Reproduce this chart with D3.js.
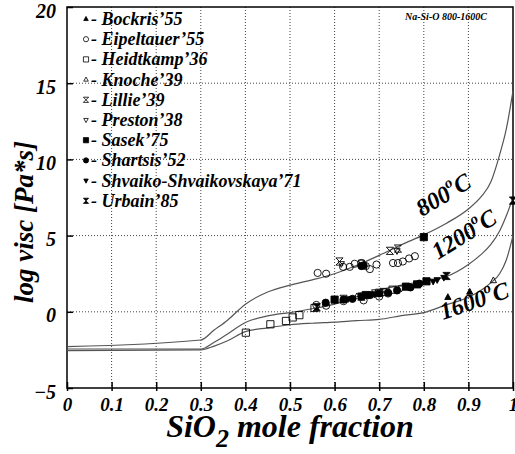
<!DOCTYPE html>
<html>
<head>
<meta charset="utf-8">
<script src="https://cdn.jsdelivr.net/npm/d3@7"></script>
<style>
  body { margin: 0; background: #fff; }
  text { font-family: "Liberation Serif", "Times New Roman", serif; font-weight: bold; font-style: italic; }
</style>
</head>
<body>
<svg id="chart"></svg>
<script>
var WIDTH = 515;
var HEIGHT = 454;

// model curves: SiO2 fraction vs log viscosity
var curveX = [0, 0.3, 0.33, 0.36, 0.4, 0.45, 0.5, 0.55, 0.6, 0.65, 0.7, 0.75, 0.8, 0.85, 0.9, 0.93, 0.95, 0.97, 0.985, 1.0];
var visc800 = [-2.29, -1.85, -1.2, -0.55, 0.5, 1.3, 1.75, 2.1, 2.5, 3.05, 3.7, 4.4, 5.05, 5.8, 6.75, 7.6, 8.5, 10.3, 12.0, 14.5];
var visc1200 = [-2.44, -2.44, -2.0, -1.45, -0.7, -0.27, -0.05, 0.2, 0.5, 1.0, 1.42, 1.75, 2.0, 2.3, 3.1, 3.8, 4.4, 5.3, 6.3, 7.5];
var visc1600 = [-2.55, -2.5, -2.25, -1.9, -1.3, -1.05, -0.85, -0.75, -0.68, -0.58, -0.5, -0.25, -0.05, 0.45, 0.95, 1.45, 1.9, 2.5, 3.4, 5.0];

var curveLabels = ["800", "1200", "1600"];

// measured data, [SiO2 fraction, log visc]
var bockris = [[0.854, 0.95], [0.903, 1.3]];
var eipeltauer = [[0.562, 2.55], [0.581, 2.5], [0.619, 2.95], [0.634, 2.95], [0.645, 3.15], [0.66, 3.2], [0.67, 3.0],
  [0.679, 2.8], [0.694, 3.1], [0.731, 3.2], [0.742, 3.2], [0.753, 3.3], [0.767, 3.5], [0.78, 3.65],
  [0.559, 0.45], [0.581, 0.4], [0.62, 0.7], [0.665, 0.75], [0.7, 1.0], [0.72, 1.2]];
var heidtkamp = [[0.401, -1.37], [0.456, -0.82], [0.491, -0.6], [0.506, -0.37], [0.521, -0.22], [0.555, 0.25], [0.7, 1.25], [0.73, 1.45]];
var knoche = [[0.956, 2.05], [0.6, 0.8], [0.65, 1.0]];
var lillie = [[0.611, 3.3], [0.724, 4.0], [0.742, 4.15], [0.62, 0.85], [0.71, 1.3]];
var preston = [[0.615, 3.15], [0.66, 3.25], [0.74, 4.0], [0.69, 1.3], [0.75, 1.55], [0.6, 0.75]];
var sasek = [[0.8, 4.9], [0.806, 2.0], [0.6, 0.8], [0.67, 1.1], [0.76, 1.65], [0.785, 1.8]];
var shartsis = [[0.58, 0.6], [0.62, 0.8], [0.64, 0.85], [0.66, 1.0], [0.68, 1.1], [0.7, 1.2], [0.72, 1.25], [0.74, 1.4],
  [0.77, 1.6], [0.79, 1.85], [0.66, 3.0], [0.665, 3.05]];
var shvaiko = [[0.821, 2.0], [0.83, 2.1], [0.845, 2.25], [0.69, 1.15], [0.63, 0.85]];
var urbain = [[0.851, 2.35], [1.0, 7.3], [0.56, 0.3], [0.66, 1.0]];

var seriesNames = ["Bockris\u201955", "Eipeltauer\u201955", "Heidtkamp\u201936", "Knoche\u201939", "Lillie\u201939",
  "Preston\u201938", "Sasek\u201975", "Shartsis\u201952", "Shvaiko-Shvaikovskaya\u201971", "Urbain\u201985"];
var seriesData = [bockris, eipeltauer, heidtkamp, knoche, lillie, preston, sasek, shartsis, shvaiko, urbain];
var seriesShapes = ["triUpF", "circle", "square", "triUp", "hourglass", "triDown", "squareF", "circleF", "triDownF", "hourglassF"];

var xTicks = [0, 0.1, 0.2, 0.3, 0.4, 0.5, 0.6, 0.7, 0.8, 0.9, 1];
var yTicks = [-5, 0, 5, 10, 15, 20];

var svg = d3.select("#chart")
    .attr("width", WIDTH)
    .attr("height", HEIGHT);

var x = d3.scaleLinear().domain([0, 1]).range([67, 513]);
var y = d3.scaleLinear().domain([-5, 20]).range([388, 7]);

//grid lines
var grid = svg.append("g");
grid.selectAll(".vg").data(xTicks.slice(1, -1)).enter().append("line")
    .attr("x1", function(d) { return x(d); }).attr("x2", function(d) { return x(d); })
    .attr("y1", y(20)).attr("y2", y(-5))
    .attr("stroke", "#444").attr("stroke-width", 1).attr("stroke-dasharray", "1,2");
grid.selectAll(".hg").data(yTicks.slice(1, -1)).enter().append("line")
    .attr("y1", function(d) { return y(d); }).attr("y2", function(d) { return y(d); })
    .attr("x1", x(0)).attr("x2", x(1))
    .attr("stroke", "#444").attr("stroke-width", 1).attr("stroke-dasharray", "1,2");

//frame
svg.append("rect")
    .attr("x", x(0)).attr("y", y(20))
    .attr("width", x(1) - x(0)).attr("height", y(-5) - y(20))
    .attr("fill", "none").attr("stroke", "#000").attr("stroke-width", 1.5);

//axes
var xAxis = svg.append("g").attr("transform", "translate(0," + y(-5) + ")")
    .call(d3.axisBottom(x).tickValues(xTicks).tickFormat(d3.format("")).tickSizeInner(-6).tickSizeOuter(0).tickPadding(10));
xAxis.select(".domain").remove();
xAxis.selectAll(".tick line").attr("y1", 3).attr("stroke-width", 1.5);
xAxis.selectAll(".tick text").attr("font-size", 19).attr("fill", "#000")
    .attr("font-family", "Liberation Serif").attr("dy", "0.71em");

var yAxis = svg.append("g").attr("transform", "translate(" + x(0) + ",0)")
    .call(d3.axisLeft(y).tickValues(yTicks).tickSizeInner(5).tickSizeOuter(0).tickPadding(6));
yAxis.select(".domain").remove();
yAxis.selectAll(".tick line").attr("x2", 6).attr("stroke-width", 1.5);
yAxis.selectAll(".tick text").attr("font-size", 20).attr("fill", "#000")
    .attr("font-family", "Liberation Serif").attr("dy", "0.5em");

//axis titles
var xt = svg.append("text").attr("x", 290).attr("y", 437).attr("text-anchor", "middle")
    .attr("font-size", 32);
xt.append("tspan").text("SiO");
xt.append("tspan").attr("font-size", 26).attr("dy", 10).text("2");
xt.append("tspan").attr("dy", -10).text(" mole fraction");

svg.append("text").attr("transform", "translate(33,222) rotate(-90)")
    .attr("text-anchor", "middle").attr("font-size", 27)
    .text("log visc [Pa*s]");

svg.append("text").attr("x", 405).attr("y", 20).attr("font-size", 10)
    .attr("font-weight", "normal").text("Na-Si-O 800-1600C");

//model curves
var line = d3.line()
    .x(function(d) { return x(d[0]); })
    .y(function(d) { return y(d[1]); })
    .curve(d3.curveMonotoneX);

[visc800, visc1200, visc1600].forEach(function(vals) {
    var pts = curveX.map(function(cx, i) { return [cx, vals[i]]; });
    svg.append("path").datum(pts).attr("d", line)
        .attr("fill", "none").attr("stroke", "#555").attr("stroke-width", 1.2);
});

//curve labels
var labelPos = [[422, 217, -31], [438, 260, -32], [443, 320, -19]];
curveLabels.forEach(function(t, i) {
    var p = labelPos[i];
    var lt = svg.append("text").attr("transform", "translate(" + p[0] + "," + p[1] + ") rotate(" + p[2] + ")")
        .attr("font-size", 24);
    lt.append("tspan").text(t);
    lt.append("tspan").attr("font-size", 15).attr("dy", -11).text("o");
    lt.append("tspan").attr("dy", 11).text("C");
});

//markers
function markerPath(shape, s) {
    var h = s * 0.87;
    switch (shape) {
        case "triUp": case "triUpF":
            return "M0," + (-s) + "L" + h + "," + (s * 0.6) + "L" + (-h) + "," + (s * 0.6) + "Z";
        case "triDown": case "triDownF":
            return "M0," + s + "L" + h + "," + (-s * 0.6) + "L" + (-h) + "," + (-s * 0.6) + "Z";
        case "square": case "squareF":
            return "M" + (-s) + "," + (-s) + "h" + (2 * s) + "v" + (2 * s) + "h" + (-2 * s) + "Z";
        case "hourglass": case "hourglassF":
            return "M" + (-s) + "," + (-s) + "L" + s + "," + (-s) + "L" + (-s) + "," + s + "L" + s + "," + s + "Z";
        default:
            return d3.symbol(d3.symbolCircle, Math.PI * s * s)();
    }
}
function isFilled(shape) { return shape.slice(-1) === "F"; }

var pts = svg.append("g");
seriesData.forEach(function(data, i) {
    var shape = seriesShapes[i];
    pts.selectAll(".s" + i).data(data).enter().append("path")
        .attr("transform", function(d) { return "translate(" + x(d[0]) + "," + y(d[1]) + ")"; })
        .attr("d", markerPath(shape, 3.6))
        .attr("fill", isFilled(shape) ? "#000" : "#fff")
        .attr("fill-opacity", isFilled(shape) ? 1 : 0)
        .attr("stroke", "#000").attr("stroke-width", 0.9);
});

//legend
var legend = svg.append("g");
seriesNames.forEach(function(name, i) {
    var ly = 19 + i * 20.2;
    var shape = seriesShapes[i];
    legend.append("path")
        .attr("transform", "translate(86," + ly + ")")
        .attr("d", markerPath(shape, 2.6))
        .attr("fill", isFilled(shape) ? "#000" : "#fff")
        .attr("stroke", "#000").attr("stroke-width", 0.8);
    legend.append("text").attr("x", 91).attr("y", ly + 6).attr("font-size", 18)
        .text("- " + name);
});
</script>
</body>
</html>
